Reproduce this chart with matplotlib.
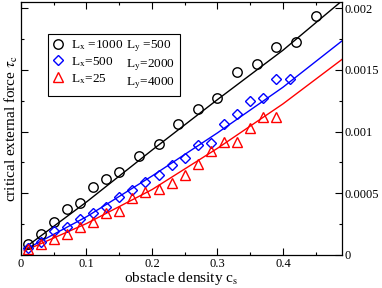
import matplotlib
matplotlib.use("Agg")
import matplotlib.pyplot as plt
from matplotlib.ticker import FixedLocator, FixedFormatter, MultipleLocator
from matplotlib.lines import Line2D

plt.rcParams['font.family'] = ['Liberation Serif', 'DejaVu Serif']
plt.rcParams['mathtext.fontset'] = 'stix'

# ---- data ----
cs_a = [0.01, 0.03, 0.05, 0.07, 0.09, 0.11, 0.13, 0.15, 0.18, 0.21, 0.24, 0.27,
        0.30, 0.33, 0.36, 0.39, 0.42, 0.45]
tau_a = [0.00009, 0.00017, 0.000268, 0.00037, 0.000425, 0.00055, 0.000615, 0.00067,
         0.0008, 0.0009, 0.001065, 0.00118, 0.00127, 0.00148, 0.001545, 0.00169,
         0.00173, 0.00194]

cs_b = [0.01, 0.03, 0.05, 0.07, 0.09, 0.11, 0.13, 0.15, 0.17, 0.19, 0.21, 0.23,
        0.25, 0.27, 0.29, 0.31, 0.33, 0.35, 0.37, 0.39, 0.41]
tau_b = [0.000054, 0.000106, 0.000198, 0.000225, 0.000295, 0.000344, 0.000393,
         0.000474, 0.000528, 0.00059, 0.000645, 0.00073, 0.000786, 0.00089,
         0.00091, 0.001065, 0.001147, 0.001246, 0.00127, 0.00143, 0.00143]

cs_c = [0.01, 0.03, 0.05, 0.07, 0.09, 0.11, 0.13, 0.15, 0.17, 0.19, 0.21, 0.23,
        0.25, 0.27, 0.29, 0.31, 0.33, 0.35, 0.37, 0.39]
tau_c = [0.000046, 0.000087, 0.000128, 0.000168, 0.000225, 0.00027, 0.000339,
         0.00036, 0.00046, 0.000507, 0.000534, 0.000583, 0.00065, 0.00074,
         0.000846, 0.00092, 0.00092, 0.00103, 0.00112, 0.00112]

# fitted curves
fit_x = [0.005, 0.1, 0.2, 0.3, 0.4, 0.49]
fit_a = [0.000055, 0.00043, 0.00085, 0.00126, 0.00166, 0.00206]
fit_b = [0.00004, 0.00031, 0.00064, 0.00099, 0.00136, 0.001735]
fit_c = [0.000033, 0.000255, 0.00053, 0.000865, 0.001225, 0.001585]

labels_x = ["L$_\\mathrm{x}$ =1000", "L$_\\mathrm{x}$=500", "L$_\\mathrm{x}$=25"]
labels_y = ["L$_\\mathrm{y}$ =500", "L$_\\mathrm{y}$=2000", "L$_\\mathrm{y}$=4000"]

xticks = [0, 0.1, 0.2, 0.3, 0.4]
xticklabels = ["0", "0.1", "0.2", "0.3", "0.4"]
yticks = [0, 0.0005, 0.001, 0.0015, 0.002]
yticklabels = ["0", "0.0005", "0.001", "0.0015", "0.002"]

# ---- figure ----
fig = plt.figure(figsize=(3.82, 2.88), dpi=100)
ax = fig.add_axes([0.055, 0.1146, 0.84, 0.878])

ax.plot(fit_x, fit_a, color='black', lw=1.0)
ax.plot(fit_x, fit_b, color='#0000ff', lw=1.0)
ax.plot(fit_x, fit_c, color='#ff0000', lw=1.0)

ha, = ax.plot(cs_a, tau_a, 'o', mfc='none', mec='black', ms=6.8, mew=1.0)
hb, = ax.plot(cs_b, tau_b, 'D', mfc='none', mec='#0000ff', ms=5.0, mew=1.0)
hc, = ax.plot(cs_c, tau_c, '^', mfc='none', mec='#ff0000', ms=6.8, mew=1.0)

ax.set_xlim(0, 0.49)
ax.set_ylim(0, 0.00205)

ax.xaxis.set_major_locator(FixedLocator(xticks))
ax.xaxis.set_major_formatter(FixedFormatter(xticklabels))
ax.xaxis.set_minor_locator(MultipleLocator(0.05))
ax.yaxis.set_major_locator(FixedLocator(yticks))
ax.yaxis.set_major_formatter(FixedFormatter(yticklabels))
ax.yaxis.set_minor_locator(MultipleLocator(0.00025))

ax.tick_params(which='both', direction='in', top=True, right=True, left=True, bottom=True,
               labelleft=False, labelright=True, labelsize=9, width=0.8, pad=2)
ax.tick_params(which='major', length=5)
ax.tick_params(which='minor', length=2.5)
for s in ax.spines.values():
    s.set_linewidth(0.9)

ax.set_xlabel("obstacle density c$_\\mathrm{s}$", fontsize=11, labelpad=0)
ax.set_ylabel("critical external force $\\tau_\\mathrm{c}$", fontsize=11, labelpad=1)
ax.yaxis.set_label_position('left')

blank = Line2D([], [], linestyle='none', marker=None)
leg = ax.legend([ha, hb, hc, blank, blank, blank], labels_x + labels_y, ncol=2,
                loc='upper left', bbox_to_anchor=(0.085, 0.875), fontsize=9.5,
                frameon=True, fancybox=False, edgecolor='black', framealpha=1,
                handlelength=0.8, handletextpad=0.6, columnspacing=-1.2,
                borderpad=0.35, labelspacing=0.22, borderaxespad=0)
leg.get_frame().set_linewidth(0.8)

fig.savefig("out.png", dpi=100)
